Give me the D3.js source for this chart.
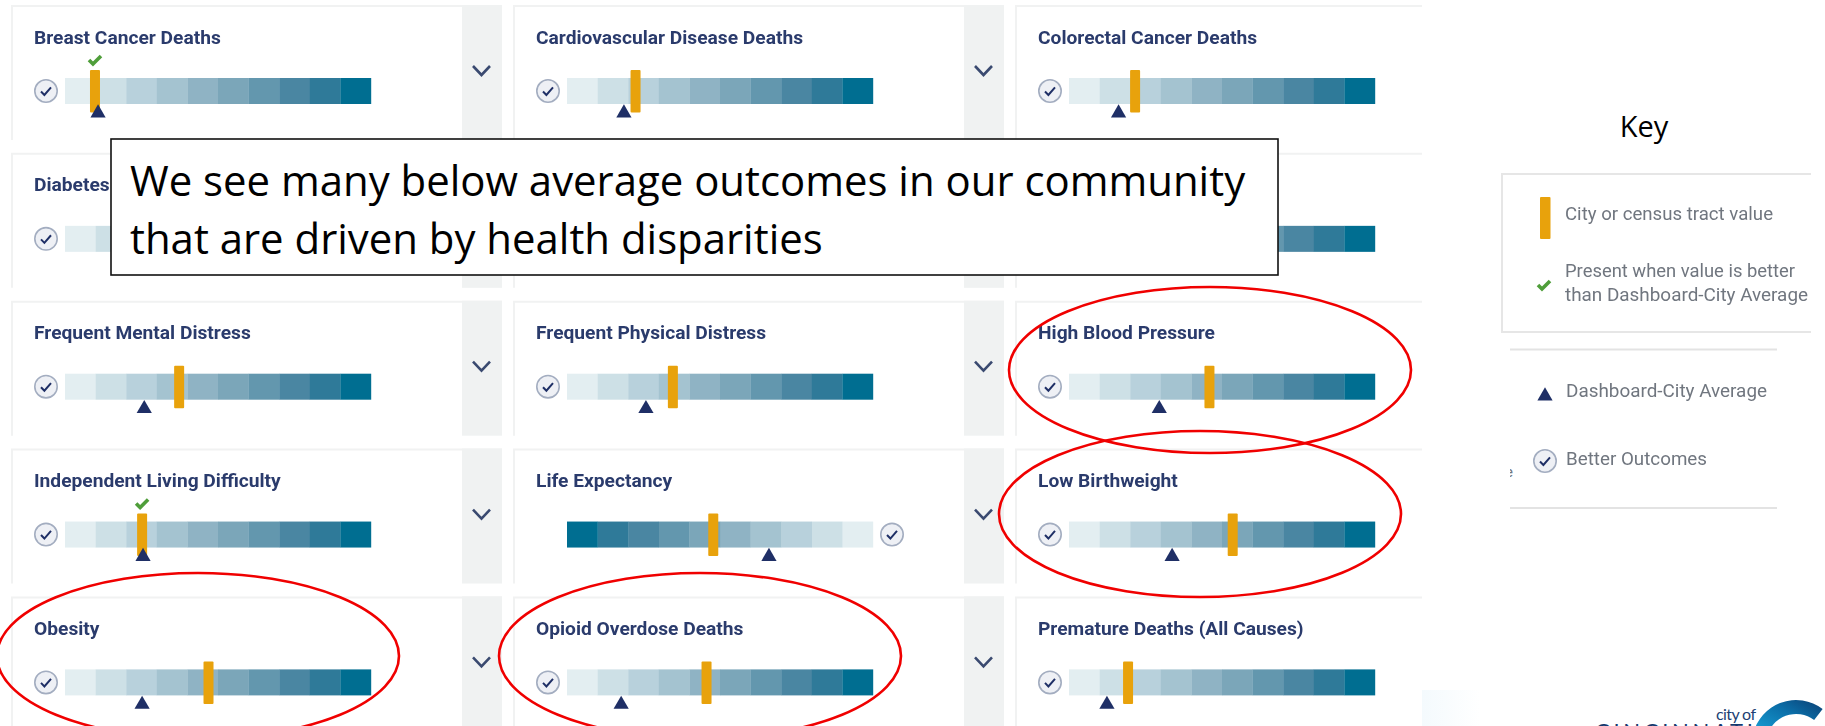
<!DOCTYPE html>
<html><head><meta charset="utf-8">
<style>html,body{margin:0;padding:0;background:#fff}svg{display:block}</style>
<script src="https://cdn.jsdelivr.net/npm/d3@7/dist/d3.min.js"></script>
</head><body><div id="c"></div>
<script>
const measures = ["Breast Cancer Deaths","Cardiovascular Disease Deaths","Colorectal Cancer Deaths","Diabetes","","","Frequent Mental Distress","Frequent Physical Distress","High Blood Pressure","Independent Living Difficulty","Life Expectancy","Low Birthweight","Obesity","Opioid Overdose Deaths","Premature Deaths (All Causes)"];
// position along a 0 (better) to 10 (worse) scale; null = hidden behind the callout
const cityValues = [0.98,2.24,2.16,null,null,null,3.73,3.46,4.59,2.52,5.22,5.35,4.69,4.56,1.93];
const averages   = [1.08,1.86,1.62,null,null,null,2.59,2.58,2.95,2.55,3.40,3.37,2.52,1.77,1.24];
const reversed   = ["Life Expectancy"];
const bands = d3.range(10);
const bandColors = ["#e3eef1","#cde0e6","#b8d1dc","#a4c3d0","#8fb3c4","#7ba6b9","#6397ae","#4a86a2","#2f7a99","#006e91"];
const callout = ["We see many below average outcomes in our community","that are driven by health disparities"];
const circled = [{cx:1210,cy:370},{cx:1200,cy:514},{cx:198,cy:656},{cx:700,cy:656}];

const W=1825,H=726;
const svg=d3.select("#c").append("svg").attr("width",W).attr("height",H);
const defs=svg.append("defs");
defs.append("filter").attr("id","soft").append("feGaussianBlur").attr("stdDeviation",0.45);
defs.append("clipPath").attr("id","panel").append("rect").attr("width",1422).attr("height",H);
defs.append("clipPath").attr("id","scrap").append("rect").attr("x",1510).attr("y",455).attr("width",4).attr("height",30);
const fade=defs.append("linearGradient").attr("id","wash");
fade.append("stop").attr("offset",0).attr("stop-color","#f4fafd");
fade.append("stop").attr("offset",1).attr("stop-color","#ffffff");
const sweep=defs.append("linearGradient").attr("id","sweep").attr("x1",0).attr("x2",1).attr("y1",1).attr("y2",0);
sweep.append("stop").attr("offset",0).attr("stop-color","#18a7dc");
sweep.append("stop").attr("offset",.6).attr("stop-color","#0b6ea8");
sweep.append("stop").attr("offset",1).attr("stop-color","#0c3f73");

const navy="#1f2f66", titleColor="#2b3b6c", gold="#e8a20c", green="#4f9e3a", greyText="#70767f";
const font="Roboto, sans-serif";

const colX=d3.scaleLinear().domain([0,2]).range([11,1015]);
const rowY=d3.scaleLinear().domain([0,4]).range([5,596.4]);
const chk="M-5,0.5 L-1.6,4 L5,-3.6";
function badge(g,x,y){
  g.append("circle").attr("cx",x).attr("cy",y).attr("r",11.2).attr("fill","#eef0f5").attr("stroke","#a3adc0").attr("stroke-width",1.6);
  g.append("path").attr("d",chk).attr("transform",`translate(${x},${y})`).attr("fill","none").attr("stroke",navy).attr("stroke-width",2);
}
function greenCheck(g,x,y){
  g.append("path").attr("d","M-6,0 L-2,4 L6,-4").attr("transform",`translate(${x},${y})`).attr("fill","none").attr("stroke",green).attr("stroke-width",3.6);
}
const tri=d3.symbol().type(d3.symbolTriangle).size(100);

const panel=svg.append("g").attr("clip-path","url(#panel)");
measures.forEach((name,i)=>{
  const c=i%3,r=Math.floor(i/3),x0=colX(c),y0=rowY(r);
  const g=panel.append("g").attr("transform",`translate(${x0},${y0})`);
  g.append("path").attr("d","M1,135 V1 H491").attr("fill","none").attr("stroke","#f1f2f2").attr("stroke-width",2);
  g.append("rect").attr("x",451).attr("y",0).attr("width",40).attr("height",135).attr("fill","#f0f2f2");
  g.append("path").attr("d","M462,61 L470.5,70 L479,61").attr("fill","none").attr("stroke","#3a4a70").attr("stroke-width",2.6);
  if(name) g.append("text").attr("x",23).attr("y",38.5).attr("font-family",font).attr("font-weight",700).attr("font-size",19.2).attr("fill",titleColor).attr("filter","url(#soft)").text(name);
  const rev=reversed.includes(name);
  const sx=d3.scaleLinear().domain([0,10]).range(rev?[360,54]:[54,360]);
  g.selectAll("rect.band").data(bands).enter().append("rect").attr("class","band")
    .attr("x",d=>Math.min(sx(d),sx(d+1))).attr("y",73).attr("width",30.8).attr("height",26)
    .attr("fill",d=>bandColors[d]);
  badge(g,rev?379:35,86);
  const v=cityValues[i],a=averages[i];
  if(v!==null){
    g.append("rect").attr("x",sx(v)-5).attr("y",65).attr("width",10).attr("height",42.5).attr("rx",1).attr("fill",gold);
    g.append("path").attr("d",tri).attr("transform",`translate(${sx(a)},${108})`).attr("fill",navy);
    if(v<=a) greenCheck(g,sx(v),55);
  }
});

// red circles
svg.append("g").selectAll("ellipse").data(circled).enter().append("ellipse")
  .attr("cx",d=>d.cx).attr("cy",d=>d.cy).attr("rx",201).attr("ry",83)
  .attr("fill","none").attr("stroke","#f00000").attr("stroke-width",2.6);

// callout
svg.append("rect").attr("x",111).attr("y",139).attr("width",1167).attr("height",136).attr("fill","#fff").attr("stroke","#111").attr("stroke-width",1.6);
svg.append("g").selectAll("text").data(callout).enter().append("text")
  .attr("x",130).attr("y",(d,i)=>196+i*57.5).attr("font-family","'Open Sans',sans-serif").attr("font-size",41.9).attr("fill","#000").text(d=>d);

// key
svg.append("text").attr("x",1644).attr("y",137).attr("text-anchor","middle").attr("font-family","'Open Sans',sans-serif").attr("font-size",29).attr("fill","#000").text("Key");
svg.append("path").attr("d","M1811,174 H1502 V332 H1811").attr("fill","none").attr("stroke","#e6e6e6").attr("stroke-width",2);
const key=svg.append("g").attr("font-family",font).attr("font-size",18).attr("fill",greyText).attr("filter","url(#soft)");
const keyText=(x,y,len,t)=>key.append("text").attr("x",x).attr("y",y).attr("textLength",len).attr("lengthAdjust","spacingAndGlyphs").text(t);
svg.append("rect").attr("x",1540).attr("y",197).attr("width",10.5).attr("height",42).attr("rx",1).attr("fill",gold);
keyText(1565,220,208,"City or census tract value");
greenCheck(svg,1544,285);
keyText(1565,277,230,"Present when value is better");
keyText(1565,301,243,"than Dashboard-City Average");
svg.append("path").attr("d","M1510,349.5 H1777 M1510,508 H1777").attr("stroke","#e3e3e3").attr("stroke-width",2);
svg.append("path").attr("d",tri).attr("transform","translate(1545,396)").attr("fill",navy);
keyText(1566,397,201,"Dashboard-City Average");
badge(svg,1545,461);
keyText(1566,465,141,"Better Outcomes");
svg.append("g").attr("clip-path","url(#scrap)").append("text").attr("x",1505).attr("y",477).attr("font-family",font).attr("font-size",15).attr("fill",greyText).text("e");

// logo fragment
svg.append("rect").attr("x",1422).attr("y",690).attr("width",58).attr("height",36).attr("fill","url(#wash)");
svg.append("text").attr("x",1716).attr("y",720).attr("font-family","Lato, sans-serif").attr("font-size",16).attr("textLength",40).attr("fill","#1d3f73").text("city of");
svg.append("text").attr("x",1595).attr("y",739).attr("font-family","Lato, sans-serif").attr("font-size",22).attr("textLength",158).attr("fill","#15396e").text("CINCINNATI");
const arc=d3.arc().innerRadius(30).outerRadius(44);
svg.append("path").attr("d",arc({startAngle:-1.35,endAngle:.65})).attr("transform","translate(1796,744)").attr("fill","url(#sweep)");
</script></body></html>
